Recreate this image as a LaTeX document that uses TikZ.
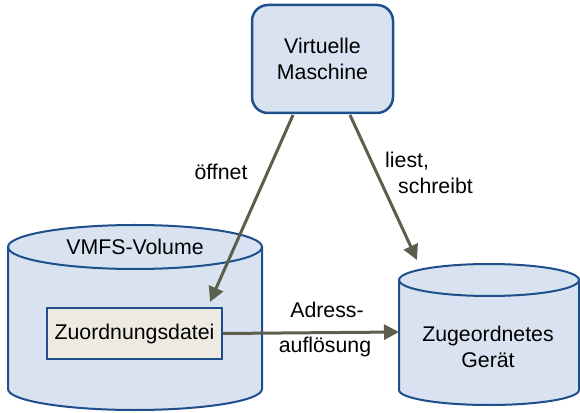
\documentclass[tikz,border=0pt]{standalone}
\usepackage{fontspec}
\setmainfont{Liberation Sans}
\usetikzlibrary{arrows.meta}
\definecolor{boxfill}{HTML}{D9E2F0}
\definecolor{boxline}{HTML}{1E4E8C}
\definecolor{filefill}{HTML}{EDEAE2}
\definecolor{arr}{HTML}{5C5F4B}
\tikzset{
  txt/.style={font=\fontsize{21.3}{25.5}\selectfont, inner sep=0pt, align=center},
  vmbox/.style={draw=boxline, line width=2.5pt, fill=boxfill, rounded corners=16pt, minimum width=141pt, minimum height=108pt, txt},
  filebox/.style={draw=boxline, line width=2pt, fill=filefill, minimum width=175pt, minimum height=51pt, txt},
  cylline/.style={draw=boxline, line width=2pt},
  conn/.style={draw=arr, line width=3pt, -{Triangle[length=15pt,width=15pt]}, shorten >=0pt}
}
\begin{document}
\begin{tikzpicture}[x=1pt,y=1pt]
\useasboundingbox (0,0) rectangle (580,412);
% left cylinder (VMFS volume)
\fill[boxfill] (8,165) -- (8,23) arc[start angle=180,end angle=360,x radius=127,y radius=21] -- (262,165) arc[start angle=0,end angle=180,x radius=127,y radius=22] -- cycle;
\draw[cylline] (8,165) -- (8,23) arc[start angle=180,end angle=360,x radius=127,y radius=21] -- (262,165);
\draw[cylline] (135,165) ellipse[x radius=127,y radius=22];
% right cylinder (device)
\fill[boxfill] (399,132) -- (399,22) arc[start angle=180,end angle=360,x radius=90,y radius=15] -- (579,132) arc[start angle=0,end angle=180,x radius=90,y radius=16] -- cycle;
\draw[cylline] (399,132) -- (399,22) arc[start angle=180,end angle=360,x radius=90,y radius=15] -- (579,132);
\draw[cylline] (489,132) ellipse[x radius=90,y radius=16];

\node[vmbox] (vm) at (322.5,353) {Virtuelle\\Maschine};
\node[txt] (vmfs) at (135,165) {VMFS-Volume};
\node[filebox] (map) at (134.5,78.5) {Zuordnungsdatei};
\node[txt] (dev) at (488,65) {Zugeordnetes\\Gerät};

\coordinate (vmL) at (293,297);
\coordinate (vmR) at (350,297);
\coordinate (mapTop) at (210,110);
\coordinate (devTop) at (417,152);
\coordinate (devLeft) at (399,80);

\draw[conn] (vmL) -- (mapTop);
\draw[conn] (vmR) -- (devTop);
\draw[conn] (map.east) -- (devLeft);

\node[txt] (l1) at (221,240) {öffnet};
\node[txt, align=left, anchor=north west] (l2) at (385,260) {liest,\\\hspace*{13pt}schreibt};
\node[txt] (l3) at (327,102) {Adress-};
\node[txt] (l4) at (325,65) {auflösung};
\end{tikzpicture}
\end{document}
